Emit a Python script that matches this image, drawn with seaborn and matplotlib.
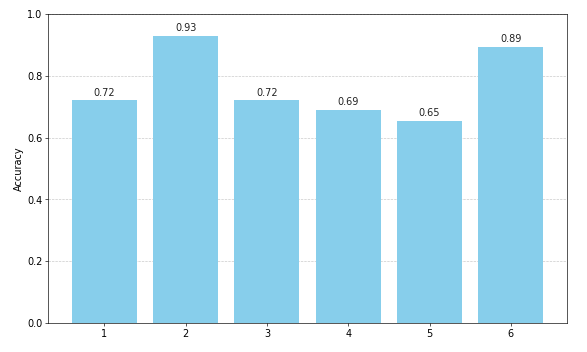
import matplotlib
matplotlib.use("Agg")
import matplotlib.pyplot as plt
import seaborn as sns
import pandas as pd

folds = [1, 2, 3, 4, 5, 6]
accuracy = [0.72, 0.93, 0.72, 0.69, 0.654, 0.893]

df = pd.DataFrame({"fold": folds, "accuracy": accuracy})

fig, ax = plt.subplots(figsize=(10, 6), dpi=58.7)
fig.subplots_adjust(left=0.082, right=0.966, top=0.96, bottom=0.082)

sns.barplot(data=df, x="fold", y="accuracy", color="skyblue", saturation=1,
            width=0.8, ax=ax)

for i, v in enumerate(accuracy):
    ax.text(i, v + 0.01, f"{v:.2f}", ha="center", va="bottom", fontsize=12,
            color="#222222")

# matplotlib-style x margins
ax.set_xlim(-0.69, 5.69)
ax.set_ylim(0, 1.0)
ax.set_xlabel("")
ax.set_ylabel("Accuracy", fontsize=12)
ax.tick_params(labelsize=12)
ax.yaxis.grid(True, linestyle="--", alpha=0.7)
ax.set_axisbelow(True)

fig.savefig("out.png", dpi=58.7)
